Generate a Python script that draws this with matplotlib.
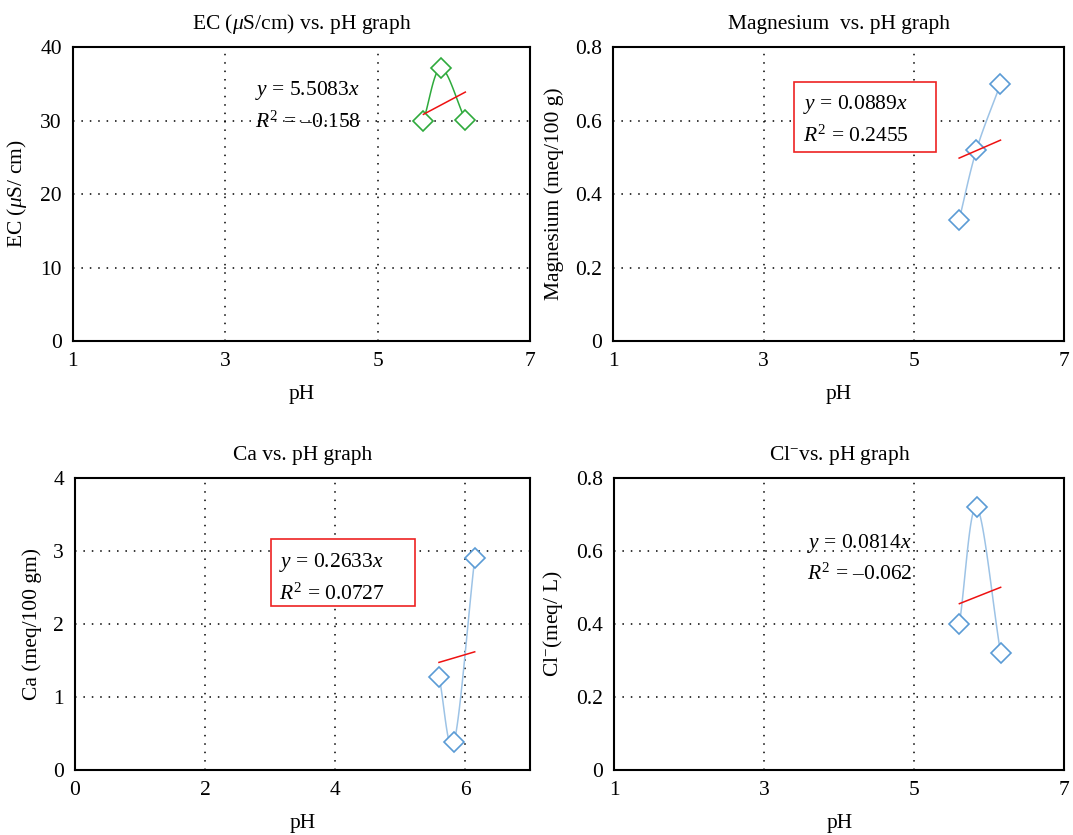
import matplotlib
matplotlib.use("Agg")
import matplotlib.pyplot as plt
from matplotlib.patches import Rectangle
import numpy as np

plt.rcParams["font.family"] = ["Liberation Serif", "DejaVu Serif"]
plt.rcParams["mathtext.fontset"] = "custom"
plt.rcParams["mathtext.rm"] = "Liberation Serif"
plt.rcParams["mathtext.it"] = "Liberation Serif:italic"

# datos
ph = [5.6, 5.83, 6.15]
ec = [30.0, 37.1, 30.1]
mg = [0.33, 0.52, 0.70]
ca = [1.28, 0.38, 2.90]
cl = [0.40, 0.72, 0.32]

pendientes = [5.5083, 0.0889, 0.2633, 0.0814]
r2 = ["–0.158", "0.2455", "0.0727", "–0.062"]

titulos = ["EC ($\\mathit{\\mu}$S/cm) vs. pH graph", "Magnesium  vs. pH graph",
           "Ca vs. pH graph", "Cl$^{-}$vs. pH graph"]
etiquetas_y = ["EC ($\\mathit{\\mu}$S/ cm)", "Magnesium (meq/100 g)",
               "Ca (meq/100 gm)", "Cl$^{-}$(meq/ L)"]
ticks_x = [[1, 3, 5, 7], [1, 3, 5, 7], [0, 2, 4, 6], [1, 3, 5, 7]]
lim_x = [(1, 7), (1, 7), (0, 7), (1, 7)]
ticks_y = [[0, 10, 20, 30, 40], [0, 0.2, 0.4, 0.6, 0.8],
           [0, 1, 2, 3, 4], [0, 0.2, 0.4, 0.6, 0.8]]
etq_ty = [["0", "10", "20", "30", "40"], ["0", "0.2", "0.4", "0.6", "0.8"],
          ["0", "1", "2", "3", "4"], ["0", "0.2", "0.4", "0.6", "0.8"]]


def curva_suave(x, y, n=30):
    # spline catmull-rom para la linea suavizada (estilo excel)
    x = np.asarray(x, float)
    y = np.asarray(y, float)
    px = np.concatenate([[2 * x[0] - x[1]], x, [2 * x[-1] - x[-2]]])
    py = np.concatenate([[2 * y[0] - y[1]], y, [2 * y[-1] - y[-2]]])
    xs, ys = [], []
    t = np.linspace(0, 1, n)
    for i in range(1, len(px) - 2):
        for p, out in ((px, xs), (py, ys)):
            p0, p1, p2, p3 = p[i - 1], p[i], p[i + 1], p[i + 2]
            out.extend(0.5 * (2 * p1 + (-p0 + p2) * t
                              + (2 * p0 - 5 * p1 + 4 * p2 - p3) * t ** 2
                              + (-p0 + 3 * p1 - 3 * p2 + p3) * t ** 3))
    return xs, ys


fig = plt.figure(figsize=(10.73, 8.35), dpi=100)
posiciones = [[0.068, 0.5916, 0.426, 0.352],
              [0.5715, 0.5916, 0.4205, 0.352],
              [0.0699, 0.0778, 0.424, 0.3497],
              [0.5725, 0.0778, 0.4195, 0.3497]]
series = [ec, mg, ca, cl]
colores = ["#2eaa3c", "#5b9bd5", "#5b9bd5", "#5b9bd5"]
colores_linea = ["#2eaa3c", "#9dc3e6", "#9dc3e6", "#9dc3e6"]
# posicion del texto de la ecuacion (coordenadas de ejes)
pos_texto = [(0.398, 0.80), (0.42, 0.752), (0.448, 0.658), (0.429, 0.725)]
# cajas rojas (x0, y0, ancho, alto) en coordenadas de ejes
cajas = [None, (0.40, 0.643, 0.316, 0.238), (0.431, 0.562, 0.316, 0.229), None]
fs = 15.5

for i in range(4):
    ax = fig.add_axes(posiciones[i])
    ax.set_xlim(*lim_x[i])
    ax.set_ylim(ticks_y[i][0], ticks_y[i][-1])
    ax.set_xticks(ticks_x[i])
    ax.set_yticks(ticks_y[i])
    ax.set_yticklabels(etq_ty[i])
    ax.tick_params(length=0, labelsize=fs, pad=8)
    for s in ax.spines.values():
        s.set_linewidth(1.5)

    # rejilla punteada solo en los ticks interiores
    for xv in ticks_x[i]:
        if lim_x[i][0] < xv < lim_x[i][1]:
            ax.axvline(xv, color="black", lw=1.1, ls=(0, (1, 4.5)), zorder=0)
    for yv in ticks_y[i][1:-1]:
        ax.axhline(yv, color="black", lw=1.1, ls=(0, (1, 4.5)), zorder=0)

    xs, ys = curva_suave(ph, series[i])
    ax.plot(xs, ys, color=colores_linea[i], lw=1.1, zorder=2)
    ax.plot(ph, series[i], ls="none", marker="D", ms=10, mfc="white",
            mec=colores[i], mew=1.2, zorder=3)

    xt = np.array([ph[0], ph[-1]])
    ax.plot(xt, pendientes[i] * xt, color="#ee1111", lw=1.1, zorder=4)

    if cajas[i] is not None:
        x0, y0, w, h = cajas[i]
        ax.add_patch(Rectangle((x0, y0), w, h, transform=ax.transAxes,
                               fc="white", ec="#ee2222", lw=1.2, zorder=5))
    texto = "$y$ = %.4f$x$\n$R^2$ = %s" % (pendientes[i], r2[i])
    ax.text(pos_texto[i][0], pos_texto[i][1], texto, transform=ax.transAxes,
            fontsize=fs, va="center", ha="left", linespacing=1.55, zorder=6)

    ax.set_title(titulos[i], fontsize=fs, pad=13)
    ax.set_xlabel("pH", fontsize=fs, labelpad=10)
    ax.set_ylabel(etiquetas_y[i], fontsize=fs, labelpad=8)

fig.savefig("out.png", dpi=100)
